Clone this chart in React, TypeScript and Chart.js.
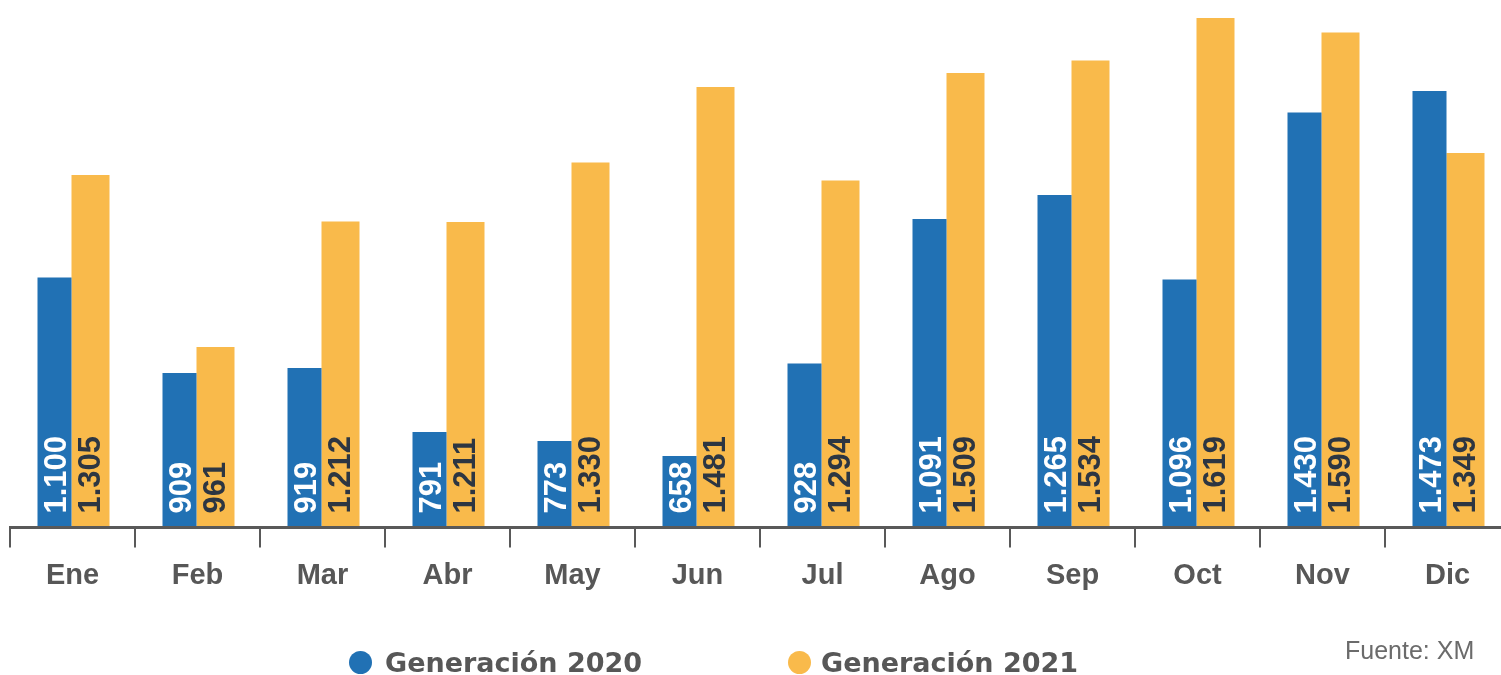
import React, { useEffect, useRef } from "react";
import { Chart, registerables } from "chart.js";

Chart.register(...registerables);

const months = ["Ene", "Feb", "Mar", "Abr", "May", "Jun", "Jul", "Ago", "Sep", "Oct", "Nov", "Dic"];
// bar heights as drawn in the picture
const gen2020 = [1100, 909, 919, 791, 773, 743, 928, 1217, 1265, 1096, 1430, 1473];
const gen2021 = [1305, 961, 1212, 1211, 1330, 1481, 1294, 1509, 1534, 1619, 1590, 1349];
// labels as printed in the picture
const labels2020 = ["1.100", "909", "919", "791", "773", "658", "928", "1.091", "1.265", "1.096", "1.430", "1.473"];
const labels2021 = ["1.305", "961", "1.212", "1.211", "1.330", "1.481", "1.294", "1.509", "1.534", "1.619", "1.590", "1.349"];
const seriesNames = ["Generación 2020", "Generación 2021"];
const sourceText = "Fuente: XM";

const BLUE = "#2171B4";
const ORANGE = "#F9BA4B";
const AXIS = "#595959";
const TEXT = "#575757";

const barLabelPlugin = {
  id: "barLabels",
  afterDraw(chart: any) {
    const ctx = chart.ctx;
    const sets = [labels2020, labels2021];
    const colors = ["#FFFFFF", "#2D3642"];
    const offs = [0, -1.5];
    const bottom = chart.chartArea.bottom;
    for (let di = 0; di < 2; di++) {
      const meta = chart.getDatasetMeta(di);
      const els = meta.data || [];
      for (let i = 0; i < els.length; i++) {
        const el = els[i];
        const txt = sets[di][i];
        const px = Number(el.x);
        ctx.save();
        ctx.translate(px + offs[di], bottom - 14);
        ctx.rotate(-Math.PI / 2);
        ctx.font = "bold 31px 'Liberation Sans', Arial, sans-serif";
        ctx.fillStyle = colors[di];
        ctx.textAlign = "left";
        ctx.textBaseline = "alphabetic";
        ctx.fillText(txt, 0, 11);
        ctx.restore();
      }
    }
  },
};

export default function App() {
  const ref = useRef<HTMLCanvasElement | null>(null);
  useEffect(() => {
    if (!ref.current) return;
    const chart = new Chart(ref.current, {
      type: "bar",
      data: {
        labels: months,
        datasets: [
          {
            label: seriesNames[0],
            data: gen2020,
            backgroundColor: BLUE,
            categoryPercentage: 0.576,
            barPercentage: 34 / 36,
          },
          {
            label: seriesNames[1],
            data: gen2021,
            backgroundColor: ORANGE,
            categoryPercentage: 0.576,
            barPercentage: 38 / 36,
          },
        ],
      },
      options: {
        animation: false,
        responsive: false,
        layout: { padding: { left: 10, right: 10, top: 0, bottom: 0 } },
        plugins: { legend: { display: false }, tooltip: { enabled: false } },
        scales: {
          x: {
            offset: true,
            grid: {
              display: true,
              offset: true,
              drawOnChartArea: false,
              drawTicks: true,
              tickLength: 20,
              color: AXIS,
              lineWidth: 2,
            },
            border: { display: true, color: AXIS, width: 3, z: 1 },
            ticks: {
              color: TEXT,
              padding: 11,
              font: { family: "'Liberation Sans', Arial, sans-serif", size: 29, weight: "bold" },
            },
            afterFit: (scale: any) => {
              scale.height = 147.5;
            },
          },
          y: {
            display: false,
            min: 600,
            max: 1655,
          },
        },
      },
      plugins: [barLabelPlugin],
    });
    return () => chart.destroy();
  }, []);

  const legendFont: React.CSSProperties = {
    position: "absolute",
    fontFamily: "'DejaVu Sans', sans-serif",
    fontWeight: "bold",
    fontSize: "27px",
    lineHeight: "27px",
    color: TEXT,
    whiteSpace: "nowrap",
  };
  const dot = (color: string, cx: number, cy: number): React.CSSProperties => ({
    position: "absolute",
    left: cx - 11.5 + "px",
    top: cy - 11.5 + "px",
    width: "23px",
    height: "23px",
    borderRadius: "50%",
    background: color,
  });

  return (
    <div
      style={{
        position: "fixed",
        left: 0,
        top: 0,
        width: "1501px",
        height: "675px",
        overflow: "hidden",
        background: "#fff",
      }}
    >
      <canvas ref={ref} width={1520} height={675} style={{ display: "block", width: "1520px", height: "675px" }} />
      <div style={dot(BLUE, 360, 662)} />
      <div style={{ ...legendFont, left: "385px", top: "649px" }}>{seriesNames[0]}</div>
      <div style={dot(ORANGE, 799, 662)} />
      <div style={{ ...legendFont, left: "821px", top: "649px" }}>{seriesNames[1]}</div>
      <div
        style={{
          position: "absolute",
          left: "1345px",
          top: "638px",
          fontFamily: "'Liberation Sans', Arial, sans-serif",
          fontSize: "25px",
          lineHeight: "25px",
          color: "#6B6B6B",
          whiteSpace: "nowrap",
        }}
      >
        {sourceText}
      </div>
    </div>
  );
}
